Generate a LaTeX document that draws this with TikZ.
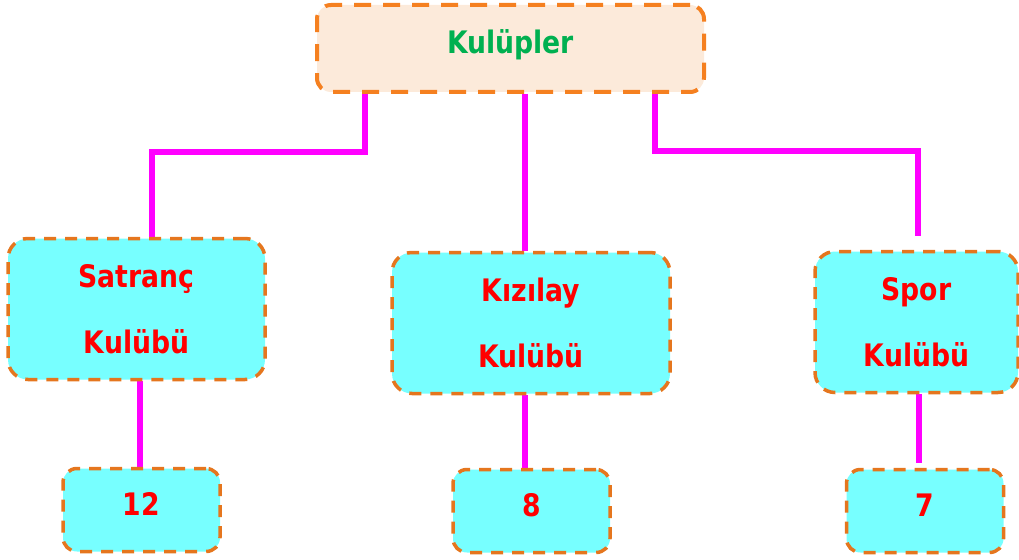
\documentclass[tikz,border=0pt]{standalone}
\usepackage{fontspec}
\newfontfamily\lblfont{DejaVu Sans}[FakeStretch=0.86]
\usetikzlibrary{backgrounds}
\definecolor{cyanfill}{RGB}{119,255,255}
\definecolor{peach}{RGB}{252,234,218}
\definecolor{borderor}{RGB}{229,118,30}
\definecolor{topor}{RGB}{245,128,32}
\definecolor{kgreen}{RGB}{0,176,80}
\definecolor{kred}{RGB}{255,0,0}
\definecolor{mag}{RGB}{255,0,255}
\tikzset{
  base/.style={draw=borderor, fill=cyanfill, line width=3.5pt, dash pattern=on 12pt off 9pt,
    rounded corners=16pt, inner sep=0pt, align=center, text=kred,
    font=\lblfont\bfseries\fontsize{31}{66}\selectfont},
  topbox/.style={base, draw=topor, fill=peach, line width=4pt, dash pattern=on 17pt off 12pt,
    rounded corners=14pt, text=kgreen, minimum width=387pt, minimum height=87pt, text depth=14pt},
  midbox/.style={base, rounded corners=20pt, minimum height=141pt},
  numbox/.style={base, rounded corners=14pt, minimum width=157pt, minimum height=83pt, text depth=12pt},
  conn/.style={draw=mag, line width=5.5pt}
}
\begin{document}
\begin{tikzpicture}[x=1pt,y=-1pt]
\useasboundingbox (0,0) rectangle (1019,559);
\node[topbox] (top) at (510.5,48.5) {Kulüpler};
\node[midbox, minimum width=257pt] (sat) at (136.5,309) {Satranç\\Kulübü};
\node[midbox, minimum width=278pt] (kiz) at (531,323) {Kızılay\\Kulübü};
\node[midbox, minimum width=203pt] (spor) at (916.5,322) {Spor\\Kulübü};
\node[numbox] (n12) at (141.5,510) {12};
\node[numbox] (n8) at (531.5,511) {8};
\node[numbox] (n7) at (925,511) {7};
\begin{pgfonlayer}{background}
\draw[conn] ([xshift=-145.5pt]top.south) |- ([xshift=15.5pt,yshift=85pt]sat.north) -- ([xshift=15.5pt]sat.north);
\draw[conn] ([xshift=14.5pt]top.south) -- ([xshift=-6pt]kiz.north);
\draw[conn] ([xshift=144.5pt]top.south) |- ([xshift=1.5pt,yshift=99pt]spor.north) -- ([xshift=1.5pt,yshift=14pt]spor.north);
\draw[conn] ([xshift=3.5pt]sat.south) -- ([xshift=-1.5pt]n12.north);
\draw[conn] ([xshift=-6pt]kiz.south) -- ([xshift=-6.5pt]n8.north);
\draw[conn] ([xshift=2.5pt]spor.south) -- ([xshift=-6pt,yshift=5pt]n7.north);
\end{pgfonlayer}
\end{tikzpicture}
\end{document}
